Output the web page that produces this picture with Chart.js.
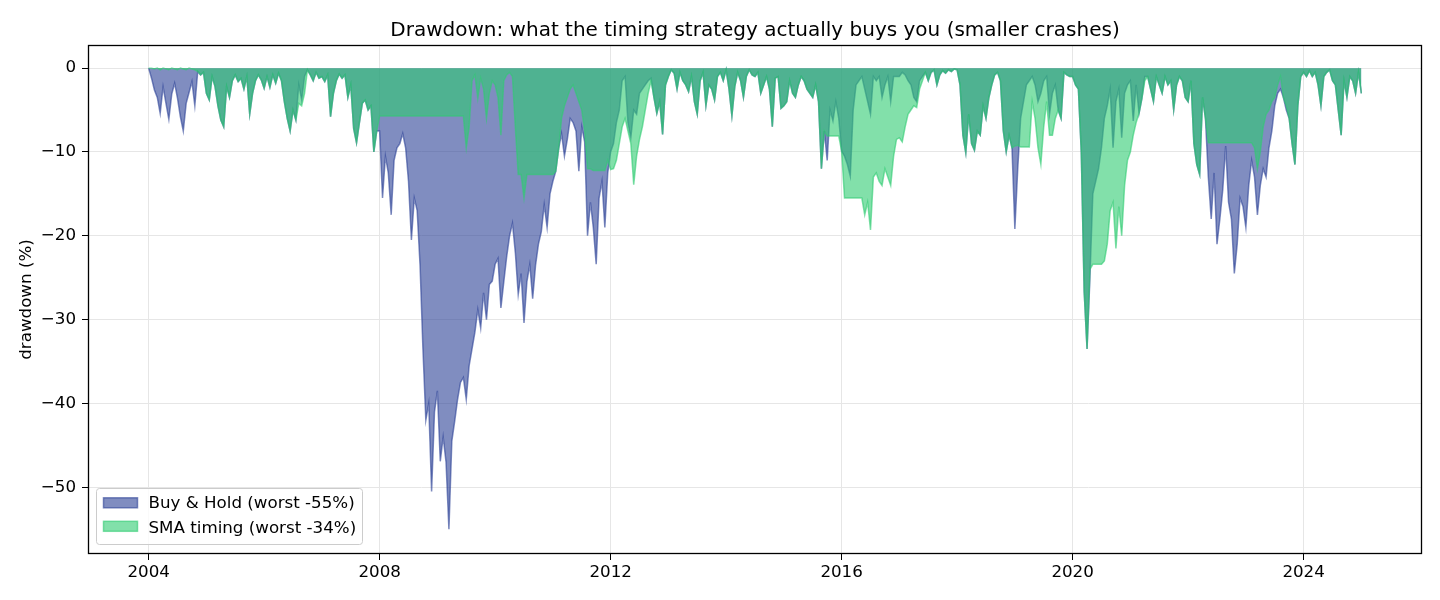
<!DOCTYPE html>
<html>
<head>
<meta charset="utf-8">
<script src="https://cdn.jsdelivr.net/npm/chart.js@4.4.1/dist/chart.umd.min.js"></script>
<style>
  html, body { margin: 0; padding: 0; background: #fff; }
  #wrap { width: 1440px; height: 600px; }
</style>
</head>
<body>
<div id="wrap"><canvas id="dd" width="1440" height="600"></canvas></div>
<script>
// x grid: one value every 0.05 year from 2004.00 to 2025.00
const startYear = 2004;
const stepYears = 0.05;
const xTicks = [2004, 2008, 2012, 2016, 2020, 2024];
const yTicks = [0, -10, -20, -30, -40, -50];
const seriesNames = ['Buy & Hold (worst -55%)', 'SMA timing (worst -34%)'];
const titleText = 'Drawdown: what the timing strategy actually buys you (smaller crashes)';
const yLabel = 'drawdown (%)';

// drawdown in %; one row = one year
const buyHold = [
  0, -1.2, -2.6, -3.5, -5.4, -2.2, -4.2, -6.1, -3.1, -1.8, -3.6, -5.8, -7.5, -4.2, -2.9, -1.6, -4.5, -0.4, -0.8, -0.5,
  -3.0, -3.8, -1.0, -2.2, -4.5, -6.2, -7.0, -2.2, -3.5, -1.5, -0.8, -1.6, -1.2, -2.5, -1.0, -5.5, -3.0, -1.5, -0.8, -1.4,
  -2.4, -1.0, -2.3, -0.8, -1.8, -0.6, -1.5, -4.0, -6.0, -7.5, -5.0, -6.2, -2.0, -3.8, -1.0, -0.2, -0.8, -1.5, -0.5, -1.2,
  -1.0, -1.6, -0.8, -5.8, -3.0, -1.5, -0.7, -1.2, -0.8, -3.5, -2.0, -7.2, -8.9, -6.5, -4.2, -3.8, -5.0, -4.5, -10.0, -7.5,
  -7.5, -15.5, -10.5, -12.5, -17.5, -11.0, -9.5, -9.0, -7.8, -9.5, -13.5, -20.5, -15.5, -17.0, -23.5, -33.5, -42.0, -40.0, -50.5, -41.0,
  -38.5, -46.9, -44.0, -47.0, -55.0, -44.5, -42.1, -39.5, -37.5, -36.9, -39.5, -35.5, -33.5, -31.5, -28.8, -31.0, -26.8, -30.0, -25.8, -25.4,
  -23.4, -22.7, -28.6, -25.5, -22.5, -20.0, -18.5, -22.0, -27.0, -24.5, -30.4, -25.5, -23.4, -27.5, -23.5, -21.0, -19.5, -16.3, -19.0, -15.0,
  -13.5, -12.3, -9.6, -7.8, -10.5, -8.5, -6.0, -6.5, -7.5, -12.3, -7.0, -8.8, -20.0, -16.0, -19.0, -23.4, -15.5, -13.5, -19.0, -12.5,
  -10.0, -9.0, -6.5, -5.0, -1.5, -1.0, -6.5, -8.3, -5.0, -5.5, -3.0, -2.5, -2.0, -1.5, -1.2, -3.5, -5.4, -4.0, -7.9, -2.0,
  -1.0, -0.2, -0.6, -2.5, -0.5, -1.5, -2.0, -2.8, -1.0, -4.0, -5.5, -1.5, -0.5, -4.5, -2.0, -2.5, -3.8, -1.0, -0.5, -1.5,
  -0.2, -2.5, -5.7, -2.2, -0.5, -1.5, -3.5, -1.0, -0.2, -0.8, -1.0, -0.5, -3.0, -2.0, -1.0, -2.5, -7.0, -1.2, -1.0, -4.8,
  -4.5, -4.0, -1.5, -3.0, -3.5, -2.0, -1.0, -1.5, -2.5, -3.0, -3.5, -2.0, -4.0, -12.0, -7.5, -11.0, -5.0, -6.3, -4.0, -6.0,
  -9.9, -10.5, -11.5, -12.9, -5.0, -2.0, -1.5, -1.0, -2.5, -4.0, -5.5, -1.0, -1.5, -1.0, -3.5, -2.0, -1.0, -4.0, -1.0, -1.0,
  -1.0, -0.5, -0.8, -1.5, -2.0, -3.5, -4.0, -1.5, -1.0, -0.5, -1.5, -0.5, -0.2, -2.0, -0.8, -0.3, -0.6, -0.2, -0.4, -0.1,
  -0.2, -2.0, -8.0, -10.1, -5.5, -9.0, -9.8, -7.5, -8.0, -4.5, -6.0, -3.5, -2.0, -0.8, -0.5, -1.5, -7.5, -10.0, -8.0, -9.5,
  -19.2, -12.0, -6.0, -4.0, -2.0, -1.5, -1.0, -2.0, -4.0, -3.0, -1.5, -1.0, -5.5, -3.0, -2.0, -5.0, -6.0, -0.5, -0.8, -1.0,
  -1.0, -2.0, -2.5, -10.0, -26.6, -33.5, -25.0, -15.0, -13.5, -12.0, -9.5, -6.0, -4.5, -2.5, -9.5, -4.0, -2.5, -8.3, -3.0, -2.0,
  -1.5, -6.3, -2.0, -5.4, -3.6, -1.0, -1.0, -2.5, -4.0, -1.0, -2.0, -3.0, -1.0, -2.0, -1.5, -5.0, -2.0, -1.0, -1.5, -3.5,
  -4.0, -1.5, -9.0, -11.5, -12.7, -3.5, -6.0, -13.0, -18.0, -12.5, -21.0, -18.0, -14.5, -9.3, -16.0, -18.0, -24.5, -21.0, -15.5, -16.5,
  -19.0, -14.0, -11.0, -13.0, -17.5, -14.0, -12.0, -13.0, -9.5, -7.5, -4.5, -3.0, -2.5, -3.5, -5.0, -6.0, -9.0, -11.5, -4.5, -1.0,
  -0.5, -1.0, -0.3, -1.0, -0.5, -2.0, -4.5, -1.0, -0.5, -0.2, -1.5, -2.0, -5.0, -8.0, -1.5, -3.5, -1.0, -1.5, -3.0, -0.5,
  -3.0
];

const smaTiming = [
  0, 0, -0.1, 0, -0.2, 0, -0.1, -0.2, 0, -0.1, -0.2, 0, -0.1, -0.2, 0, -0.1, -0.2, -0.4, -0.8, -0.5,
  -3.0, -3.8, -1.0, -2.2, -4.5, -6.2, -7.0, -2.2, -3.5, -1.5, -0.8, -1.6, -1.2, -2.5, -1.0, -5.5, -3.0, -1.5, -0.8, -1.4,
  -2.4, -1.0, -2.3, -0.8, -1.8, -0.6, -1.5, -4.0, -6.0, -7.5, -5.0, -6.2, -4.2, -4.5, -3.0, -0.2, -0.8, -1.5, -0.5, -1.2,
  -1.0, -1.6, -0.8, -5.8, -3.0, -1.5, -0.7, -1.2, -0.8, -3.5, -2.0, -7.2, -8.9, -6.5, -4.2, -3.8, -5.0, -4.5, -10.0, -7.5,
  -5.7, -5.7, -5.7, -5.7, -5.7, -5.7, -5.7, -5.7, -5.7, -5.7, -5.7, -5.7, -5.7, -5.7, -5.7, -5.7, -5.7, -5.7, -5.7, -5.7,
  -5.7, -5.7, -5.7, -5.7, -5.7, -5.7, -5.7, -5.7, -5.7, -5.7, -9.5, -7.0, -1.5, -0.8, -3.6, -1.2, -2.5, -6.0, -3.0, -1.5,
  -2.0, -3.5, -8.0, -1.5, -0.8, -0.5, -1.0, -7.0, -12.7, -12.7, -15.5, -12.7, -12.7, -12.7, -12.7, -12.7, -12.7, -12.7, -12.7, -12.7,
  -12.7, -12.3, -9.6, -6.0, -4.5, -3.5, -2.5, -2.0, -3.0, -4.0, -5.0, -7.5, -12.0, -12.0, -12.2, -12.2, -12.2, -12.2, -12.2, -11.0,
  -12.1, -12.0, -11.0, -9.0, -7.0, -6.0, -7.5, -9.0, -13.9, -10.5, -8.5, -7.0, -5.0, -3.0, -1.5, -3.5, -5.4, -4.0, -7.9, -2.0,
  -1.0, -0.2, -0.6, -2.5, -0.5, -1.5, -2.0, -2.8, -1.0, -4.0, -5.5, -1.5, -0.5, -4.5, -2.0, -2.5, -3.8, -1.0, -0.5, -1.5,
  -0.2, -2.5, -5.7, -2.2, -0.5, -1.5, -3.5, -1.0, -0.2, -0.8, -1.0, -0.5, -3.0, -2.0, -1.0, -2.5, -7.0, -1.2, -1.0, -4.8,
  -4.5, -4.0, -1.5, -3.0, -3.5, -2.0, -1.0, -1.5, -2.5, -3.0, -3.5, -2.0, -4.0, -12.0, -7.5, -8.1, -8.1, -8.1, -8.1, -8.1,
  -9.9, -15.5, -15.5, -15.5, -15.5, -15.5, -15.5, -15.5, -17.5, -16.0, -19.3, -13.0, -12.5, -13.5, -14.0, -12.0, -13.0, -14.0, -10.5, -8.5,
  -8.3, -8.8, -7.0, -5.5, -5.0, -4.5, -4.7, -2.5, -1.5, -0.5, -1.5, -0.5, -0.2, -2.0, -0.8, -0.3, -0.6, -0.2, -0.4, -0.1,
  -0.2, -2.0, -8.0, -10.1, -5.5, -9.0, -9.8, -7.5, -8.0, -4.5, -6.0, -3.5, -2.0, -0.8, -0.5, -1.5, -7.5, -10.0, -8.0, -9.5,
  -9.3, -9.2, -9.4, -9.4, -9.4, -9.4, -4.0, -6.0, -9.5, -11.5, -7.0, -4.0, -8.0, -8.0, -6.0, -5.0, -6.0, -0.5, -0.8, -1.0,
  -1.0, -2.0, -2.5, -10.0, -26.6, -33.5, -24.0, -23.4, -23.4, -23.4, -23.4, -23.0, -21.0, -17.0, -16.0, -21.5, -16.5, -20.0, -14.0, -11.0,
  -10.0, -8.0, -6.5, -5.4, -3.6, -1.5, -1.0, -2.5, -4.0, -1.0, -2.0, -3.0, -1.0, -2.0, -1.5, -5.0, -2.0, -1.0, -1.5, -3.5,
  -4.0, -1.5, -9.0, -11.5, -12.7, -3.5, -6.0, -8.9, -8.9, -8.9, -8.9, -8.9, -8.9, -8.9, -8.9, -8.9, -8.9, -8.9, -8.9, -8.9,
  -8.9, -8.9, -8.9, -9.5, -12.0, -10.0, -7.0, -5.5, -5.0, -4.0, -3.5, -2.0, -1.0, -3.5, -4.5, -6.0, -9.0, -11.5, -4.5, -1.0,
  -0.5, -1.0, -0.3, -1.0, -0.5, -2.0, -4.5, -1.0, -0.5, -0.2, -1.5, -2.0, -5.0, -8.0, -1.5, -3.5, -1.0, -1.5, -3.0, -0.5,
  -3.0
];

const bhFill = 'rgba(43, 65, 150, 0.6)';
const smaFill = 'rgba(46, 204, 113, 0.6)';
const labelFont = '16.7px "DejaVu Sans"';

function toPoints(values) {
  return values.map((v, i) => ({ x: startYear + i * stepYears, y: v }));
}

// Title, y label, frame and legend drawn matplotlib-style
const decor = {
  id: 'decor',
  afterDraw(chart) {
    const { ctx, chartArea: a } = chart;
    ctx.save();
    ctx.strokeStyle = '#000';
    ctx.lineWidth = 1.3;
    ctx.strokeRect(Math.round(a.left) + 0.5, Math.round(a.top) + 0.5,
      Math.round(a.right - a.left) - 1, Math.round(a.bottom - a.top) - 1);

    ctx.fillStyle = '#000';
    ctx.textAlign = 'center';
    ctx.textBaseline = 'alphabetic';
    ctx.font = '20px "DejaVu Sans"';
    ctx.fillText(titleText, (a.left + a.right) / 2, 36);

    ctx.save();
    ctx.font = labelFont;
    ctx.textBaseline = 'middle';
    ctx.translate(27, (a.top + a.bottom) / 2);
    ctx.rotate(-Math.PI / 2);
    ctx.fillText(yLabel, 0, 0);
    ctx.restore();

    // legend box
    const bx = 96.5, by = 488.5, bw = 266, bh = 56;
    ctx.beginPath();
    if (ctx.roundRect) ctx.roundRect(bx, by, bw, bh, 3); else ctx.rect(bx, by, bw, bh);
    ctx.fillStyle = 'rgba(255,255,255,0.8)';
    ctx.fill();
    ctx.lineWidth = 1;
    ctx.strokeStyle = '#cccccc';
    ctx.stroke();

    const fills = [bhFill, smaFill];
    const patchTop = [497.8, 521.3];
    const baselines = [508.3, 532.5];
    ctx.font = labelFont;
    ctx.textAlign = 'left';
    ctx.textBaseline = 'alphabetic';
    for (let i = 0; i < 2; i++) {
      ctx.fillStyle = fills[i];
      ctx.fillRect(103.5, patchTop[i], 34, 10);
      ctx.strokeStyle = fills[i];
      ctx.lineWidth = 1.5;
      ctx.strokeRect(103.5, patchTop[i], 34, 10);
      ctx.fillStyle = '#000';
      ctx.fillText(seriesNames[i], 148.5, baselines[i]);
    }
    ctx.restore();
  }
};

Chart.defaults.font.family = '"DejaVu Sans"';
Chart.defaults.color = '#000';

const ctx = document.getElementById('dd').getContext('2d');
const myChart = new Chart(ctx, {
  type: 'line',
  data: {
    datasets: [
      {
        label: seriesNames[0],
        data: toPoints(buyHold),
        backgroundColor: bhFill,
        borderColor: bhFill,
        borderWidth: 1.5,
        fill: 'origin',
        pointRadius: 0,
        tension: 0,
        order: 2
      },
      {
        label: seriesNames[1],
        data: toPoints(smaTiming),
        backgroundColor: smaFill,
        borderColor: smaFill,
        borderWidth: 1.5,
        fill: 'origin',
        pointRadius: 0,
        tension: 0,
        order: 1
      }
    ]
  },
  options: {
    responsive: false,
    animation: false,
    devicePixelRatio: 1,
    layout: { padding: { top: 45, right: 18, bottom: 0, left: 0 } },
    plugins: {
      legend: { display: false },
      title: { display: false },
      tooltip: { enabled: false }
    },
    scales: {
      x: {
        type: 'linear',
        min: 2002.95,
        max: 2026.05,
        afterBuildTicks: axis => { axis.ticks = xTicks.map(v => ({ value: v })); },
        afterFit: scale => { scale.height = 46; },
        ticks: {
          font: { size: 16.7 },
          padding: 3,
          maxRotation: 0,
          callback: v => String(v)
        },
        grid: { color: '#e6e6e6', lineWidth: 1, tickColor: '#000', tickLength: 6 },
        border: { display: false }
      },
      y: {
        min: -57.96,
        max: 2.76,
        afterBuildTicks: axis => { axis.ticks = yTicks.map(v => ({ value: v })); },
        afterFit: scale => { scale.width = 88; },
        ticks: {
          font: { size: 16.7 },
          padding: 6,
          callback: v => String(v).replace('-', '\u2212')
        },
        grid: { color: '#e6e6e6', lineWidth: 1, tickColor: '#000', tickLength: 6 },
        border: { display: false }
      }
    }
  },
  plugins: [decor]
});
</script>
</body>
</html>
